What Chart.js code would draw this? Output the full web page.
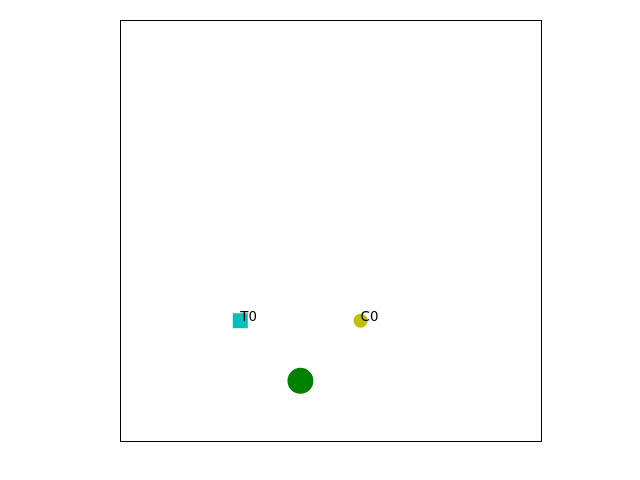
<!DOCTYPE html>
<html>
<head>
<meta charset="utf-8">
<script src="https://cdn.jsdelivr.net/npm/chart.js@4"></script>
<style>
html,body{margin:0;padding:0;background:#fff;}
#wrap{width:640px;height:480px;}
</style>
</head>
<body>
<div id="wrap"><canvas id="c" width="640" height="480"></canvas></div>
<script>
// data
const pointNames = ['T0', 'C0', ''];
const xValues = [2, 4, 3];
const yValues = [2, 2, 1];
const axisMin = 0;
const axisMax = 7;

const styles = [
  {color: '#00bfbf', shape: 'rect', r: 10.6},
  {color: '#bfbf00', shape: 'circle', r: 7},
  {color: '#008000', shape: 'circle', r: 13}
];

const datasets = xValues.map((x, i) => ({
  label: pointNames[i],
  data: [{x: x, y: yValues[i]}],
  pointStyle: styles[i].shape,
  pointRadius: styles[i].r,
  pointHoverRadius: styles[i].r,
  backgroundColor: styles[i].color,
  borderColor: styles[i].color,
  borderWidth: 0,
  pointBorderWidth: 0
}));

const framePlugin = {
  id: 'frame',
  afterDatasetsDraw(chart) {
    const ctx = chart.ctx;
    const a = chart.chartArea;
    ctx.save();
    // labels
    ctx.fillStyle = '#000';
    ctx.font = '13.33px "DejaVu Sans"';
    ctx.textAlign = 'left';
    ctx.textBaseline = 'alphabetic';
    const xs = chart.scales.x, ys = chart.scales.y;
    pointNames.forEach((n, i) => {
      if (!n) return;
      ctx.fillText(n, xs.getPixelForValue(xValues[i]), ys.getPixelForValue(yValues[i]));
    });
    // frame
    ctx.strokeStyle = '#000';
    ctx.lineWidth = 1;
    ctx.strokeRect(a.left + 0.5, a.top + 0.5, a.right - a.left, a.bottom - a.top);
    ctx.restore();
  }
};

new Chart(document.getElementById('c'), {
  type: 'scatter',
  data: {datasets},
  options: {
    responsive: false,
    animation: false,
    events: [],
    layout: {padding: {left: 120, top: 20, right: 99, bottom: 39}},
    plugins: {legend: {display: false}, tooltip: {enabled: false}},
    scales: {
      x: {type: 'linear', min: axisMin, max: axisMax, display: false},
      y: {type: 'linear', min: axisMin, max: axisMax, display: false}
    }
  },
  plugins: [framePlugin]
});
</script>
</body>
</html>
